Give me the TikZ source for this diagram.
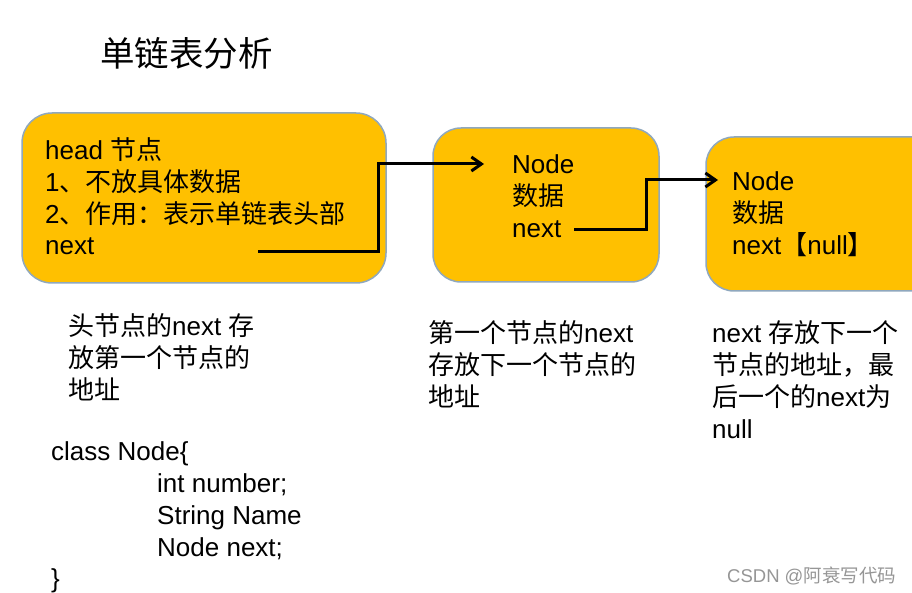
\documentclass[tikz,border=0pt]{standalone}
\usepackage{fontspec}
\setmainfont{Liberation Sans}
\newfontfamily\cjk{Noto Sans CJK SC}
\usetikzlibrary{arrows.meta}
\definecolor{boxfill}{HTML}{FFC000}
\definecolor{boxline}{RGB}{143,168,190}
\definecolor{wmgray}{RGB}{150,150,150}
\newcommand{\zh}[1]{{\cjk #1}}
\begin{document}
\begin{tikzpicture}[x=1pt,y=-1pt,
  box/.style={rectangle, fill=boxfill, draw=boxline, line width=1.5pt, rounded corners=30pt, inner sep=0pt},
  txt/.style={anchor=base west, inner sep=0pt, font=\fontsize{26}{32}\selectfont},
  arr/.style={line width=3pt, -{Straight Barb[length=10pt 0, width=14pt 0]}}]
\useasboundingbox (0,0) rectangle (912,593);
\clip (0,0) rectangle (912,593);
\fill[white] (0,0) rectangle (912,593);

% title
\node[anchor=base west, inner sep=0pt, font=\fontsize{34.5}{40}\selectfont] (title) at (100,67) {\zh{单链表分析}};

% boxes
\node[box, minimum width=364pt, minimum height=170pt] (b1) at (204,198) {};
\node[box, minimum width=226pt, minimum height=154pt, rounded corners=28pt] (b2) at (546,205) {};
\node[box, minimum width=240pt, minimum height=154pt, rounded corners=28pt] (b3) at (826,214) {};

% box 1 text
\node[txt] (h1) at (45,160) {head \zh{节点}};
\node[txt] (h2) at (45,192) {1\zh{、不放具体数据}};
\node[txt] (h3) at (45,224) {2\zh{、作用：表示单链表头部}};
\node[txt] (h4) at (45,255) {next};

% box 2 text
\node[txt] (m1) at (512,174) {Node};
\node[txt] (m2) at (512,206) {\zh{数据}};
\node[txt] (m3) at (512,238) {next};

% box 3 text
\node[txt] (r1) at (732,191) {Node};
\node[txt] (r2) at (732,223) {\zh{数据}};
\node[txt] (r3) at (732,255) {next\zh{【}null\zh{】}};

% arrows
\coordinate (a1s) at (258,252);
\coordinate (a1e) at (484,164);
\coordinate (a2s) at (574,230);
\coordinate (a2e) at (718,180);
\draw[arr] (a1s) -- ++(120,0) |- (a1e);
\draw[arr] (a2s) -- ++(72,0) |- (a2e);

% notes below box 1
\node[txt] (n1) at (68,335) {\zh{头节点的}next \zh{存}};
\node[txt] (n2) at (68,367) {\zh{放第一个节点的}};
\node[txt] (n3) at (68,399) {\zh{地址}};

% class code
\node[txt] (c1) at (51,460) {class Node\{};
\node[txt] (c2) at (157,492) {int number;};
\node[txt] (c3) at (157,524) {String Name};
\node[txt] (c4) at (157,556) {Node next;};
\node[txt] (c5) at (51,587) {\}};

% notes below box 2
\node[txt] (p1) at (428,342) {\zh{第一个节点的}next};
\node[txt] (p2) at (428,374) {\zh{存放下一个节点的}};
\node[txt] (p3) at (428,406) {\zh{地址}};

% notes below box 3
\node[txt] (q1) at (712,342) {next \zh{存放下一个}};
\node[txt] (q2) at (712,374) {\zh{节点的地址，最}};
\node[txt] (q3) at (712,406) {\zh{后一个的}next\zh{为}};
\node[txt] (q4) at (712,438) {null};

% watermark
\node[anchor=base west, inner sep=0pt, text=wmgray, font=\fontsize{18.5}{22}\selectfont] (wm) at (727,582) {CSDN @\zh{阿衰写代码}};
\end{tikzpicture}
\end{document}
